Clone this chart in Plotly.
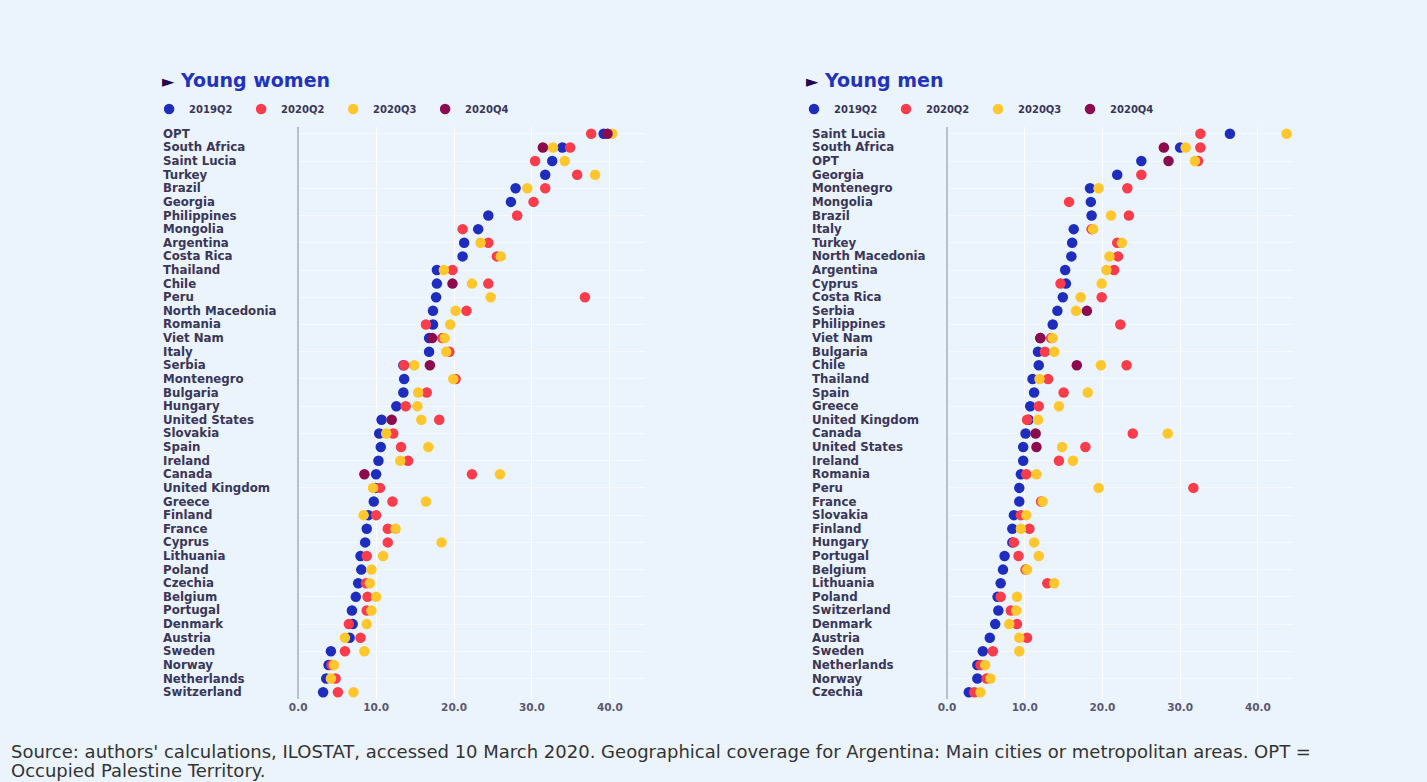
import plotly.graph_objects as go

# ---------------- data ----------------
QUARTERS = ["2019Q2", "2020Q2", "2020Q3", "2020Q4"]

women_countries = [
    "OPT", "South Africa", "Saint Lucia", "Turkey", "Brazil", "Georgia", "Philippines",
    "Mongolia", "Argentina", "Costa Rica", "Thailand", "Chile", "Peru", "North Macedonia",
    "Romania", "Viet Nam", "Italy", "Serbia", "Montenegro", "Bulgaria", "Hungary",
    "United States", "Slovakia", "Spain", "Ireland", "Canada", "United Kingdom", "Greece",
    "Finland", "France", "Cyprus", "Lithuania", "Poland", "Czechia", "Belgium", "Portugal",
    "Denmark", "Austria", "Sweden", "Norway", "Netherlands", "Switzerland",
]
women_2019q2 = [39.2, 33.9, 32.6, 31.7, 27.9, 27.3, 24.4, 23.1, 21.3, 21.1, 17.8, 17.8, 17.7, 17.3,
                17.3, 16.8, 16.8, 13.5, 13.6, 13.5, 12.6, 10.7, 10.4, 10.6, 10.3, 10.0, 9.9, 9.7,
                9.0, 8.8, 8.6, 8.0, 8.1, 7.7, 7.4, 6.9, 7.0, 6.6, 4.2, 3.9, 3.6, 3.2]
women_2020q2 = [37.6, 34.9, 30.4, 35.8, 31.7, 30.2, 28.1, 21.1, 24.4, 25.5, 19.8, 24.4, 36.8, 21.6,
                16.4, 18.5, 19.4, 13.6, 20.2, 16.5, 13.8, 18.1, 12.2, 13.2, 14.1, 22.3, 10.5, 12.1,
                10.0, 11.5, 11.5, 8.8, None, 8.7, 8.9, 8.8, 6.5, 8.0, 6.0, 4.3, 4.8, 5.1]
women_2020q3 = [40.3, 32.7, 34.2, 38.1, 29.4, None, None, None, 23.4, 26.0, 18.7, 22.3, 24.7, 20.2,
                19.5, 18.8, 19.0, 14.9, 19.9, 15.4, 15.3, 15.8, 11.3, 16.7, 13.1, 25.9, 9.6, 16.4,
                8.4, 12.5, 18.4, 10.9, 9.4, 9.2, 10.0, 9.4, 8.8, 6.0, 8.5, 4.6, 4.2, 7.1]
women_2020q4 = [39.7, 31.4, None, None, None, None, None, None, None, None, None, 19.8, None, None,
                None, 17.2, None, 16.9, None, None, None, 12.0, None, None, None, 8.5, None, None,
                None, None, None, None, None, None, None, None, None, None, None, None, None, None]

men_countries = [
    "Saint Lucia", "South Africa", "OPT", "Georgia", "Montenegro", "Mongolia", "Brazil",
    "Italy", "Turkey", "North Macedonia", "Argentina", "Cyprus", "Costa Rica", "Serbia",
    "Philippines", "Viet Nam", "Bulgaria", "Chile", "Thailand", "Spain", "Greece",
    "United Kingdom", "Canada", "United States", "Ireland", "Romania", "Peru", "France",
    "Slovakia", "Finland", "Hungary", "Portugal", "Belgium", "Lithuania", "Poland",
    "Switzerland", "Denmark", "Austria", "Sweden", "Netherlands", "Norway", "Czechia",
]
men_2019q2 = [36.4, 30.0, 25.0, 21.9, 18.4, 18.5, 18.6, 16.3, 16.1, 16.0, 15.2, 15.3, 14.9, 14.2,
              13.6, 12.0, 11.7, 11.8, 11.0, 11.2, 10.7, 10.5, 10.1, 9.8, 9.8, 9.5, 9.3, 9.3,
              8.6, 8.4, 8.4, 7.4, 7.2, 6.9, 6.5, 6.6, 6.2, 5.5, 4.6, 3.9, 3.9, 2.8]
men_2020q2 = [32.6, 32.6, 32.3, 25.0, 23.2, 15.7, 23.4, 18.6, 21.9, 22.0, 21.5, 14.6, 19.9, None,
              22.3, 13.4, 12.6, 23.1, 13.0, 15.0, 11.8, 10.3, 23.9, 17.8, 14.4, 10.2, 31.7, 12.1,
              9.5, 10.6, 8.6, 9.2, 10.1, 12.9, 6.9, 8.2, 9.0, 10.3, 5.9, 4.3, 5.1, 3.5]
men_2020q3 = [43.7, 30.7, 31.9, None, 19.5, None, 21.1, 18.8, 22.5, 20.9, 20.5, 19.9, 17.2, 16.6,
              None, 13.6, 13.8, 19.8, 11.9, 18.1, 14.4, 11.7, 28.4, 14.8, 16.2, 11.5, 19.5, 12.3,
              10.2, 9.5, 11.2, 11.8, 10.3, 13.8, 9.0, 8.9, 8.0, 9.3, 9.3, 4.9, 5.6, 4.3]
men_2020q4 = [None, 27.9, 28.5, None, None, None, None, None, None, None, None, None, None, 18.0,
              None, 12.0, None, 16.7, None, None, None, None, 11.4, 11.5, None, None, None, None,
              None, None, None, None, None, None, None, None, None, None, None, None, None, None]

x_ticks = [0, 10, 20, 30, 40]

source_lines = [
    "Source: authors' calculations, ILOSTAT, accessed 10 March 2020. Geographical coverage "
    "for Argentina: Main cities or metropolitan areas. OPT =",
    "Occupied Palestine Territory.",
]

# ---------------- style ----------------
W, H = 1427, 782
BG = "#EBF4FD"
COLORS = ["#1E2DBE", "#FA3C4B", "#FFC72C", "#8C0A4E"]
LABEL_COLOR = "#3A3658"
TITLE_COLOR = "#2233BB"
FONT = "DejaVu Sans"


def px_x(p):
    return p / W


def px_y(p):
    return 1 - p / H


fig = go.Figure()

panels = [
    dict(countries=women_countries,
         series=[women_2019q2, women_2020q2, women_2020q3, women_2020q4],
         xa="x", ya="y", legend="legend"),
    dict(countries=men_countries,
         series=[men_2019q2, men_2020q2, men_2020q3, men_2020q4],
         xa="x2", ya="y2", legend="legend2"),
]

for panel in panels:
    for q, vals, col in zip(QUARTERS, panel["series"], COLORS):
        fig.add_trace(go.Scatter(
            x=vals, y=panel["countries"], mode="markers", name=q,
            marker=dict(color=col, size=10.5, line=dict(width=0)),
            xaxis=panel["xa"], yaxis=panel["ya"], legend=panel["legend"],
            hovertemplate="%{y}: %{x:.1f}<extra>" + q + "</extra>",
        ))

y_dom = [px_y(699), px_y(127)]


def x_axis(left, right):
    return dict(
        domain=[px_x(left), px_x(right)], range=[0, 44.5],
        tickvals=x_ticks, tickformat=".1f", ticks="",
        tickfont=dict(family=FONT, size=10.5, color="#5A5872", weight=700),
        showgrid=True, gridcolor="#FFFFFF", gridwidth=1,
        zeroline=True, zerolinecolor="#B9C0CB", zerolinewidth=2,
        showline=False, fixedrange=True,
    )


def y_axis(countries, anchor):
    return dict(
        domain=y_dom, type="category", categoryarray=countries,
        categoryorder="array", range=[len(countries) - 0.5, -0.5], autorange=False,
        showticklabels=False, ticks="", showgrid=True, gridcolor="#F6FAFF",
        gridwidth=1, zeroline=False, showline=False, anchor=anchor, fixedrange=True,
    )


annotations = []
label_x = {"y": px_x(153), "y2": px_x(806)}
for panel, yref in zip(panels, ["y", "y2"]):
    for c in panel["countries"]:
        annotations.append(dict(
            x=label_x[yref], xref="paper", y=c, yref=yref, text=c,
            xanchor="left", yanchor="middle", showarrow=False,
            font=dict(family=FONT, size=11.8, color=LABEL_COLOR, weight=700),
        ))

for title, x0 in [("Young women", 152), ("Young men", 800)]:
    annotations.append(dict(
        x=px_x(x0), xref="paper", y=px_y(80), yref="paper",
        text="<span style='color:#230050;font-size:16px'>►</span> " + title,
        xanchor="left", yanchor="middle", showarrow=False,
        font=dict(family=FONT, size=19, color=TITLE_COLOR, weight=700),
    ))

for line, yc in zip(source_lines, [751, 770]):
    annotations.append(dict(
        x=px_x(0), xref="paper", y=px_y(yc), yref="paper", text=line,
        xanchor="left", yanchor="middle", align="left", showarrow=False,
        font=dict(family="DejaVu Sans", size=18, color="#333333"),
    ))

legend_style = dict(
    orientation="h", xanchor="left", yanchor="middle",
    bgcolor="rgba(0,0,0,0)", itemwidth=30, entrywidth=47, entrywidthmode="pixels",
    font=dict(family=FONT, size=10, color=LABEL_COLOR, weight=700),
    itemclick=False, itemdoubleclick=False,
)

fig.update_layout(
    width=W, height=H, margin=dict(l=0, r=0, t=0, b=0),
    paper_bgcolor=BG, plot_bgcolor=BG,
    xaxis=x_axis(291, 640), yaxis=y_axis(women_countries, "x"),
    xaxis2=x_axis(944, 1292), yaxis2=y_axis(men_countries, "x2"),
    legend=dict(legend_style, x=px_x(141), y=px_y(109)),
    legend2=dict(legend_style, x=px_x(790), y=px_y(109)),
    annotations=annotations,
    showlegend=True,
)

fig.write_html("out.html", config={"displayModeBar": False})
